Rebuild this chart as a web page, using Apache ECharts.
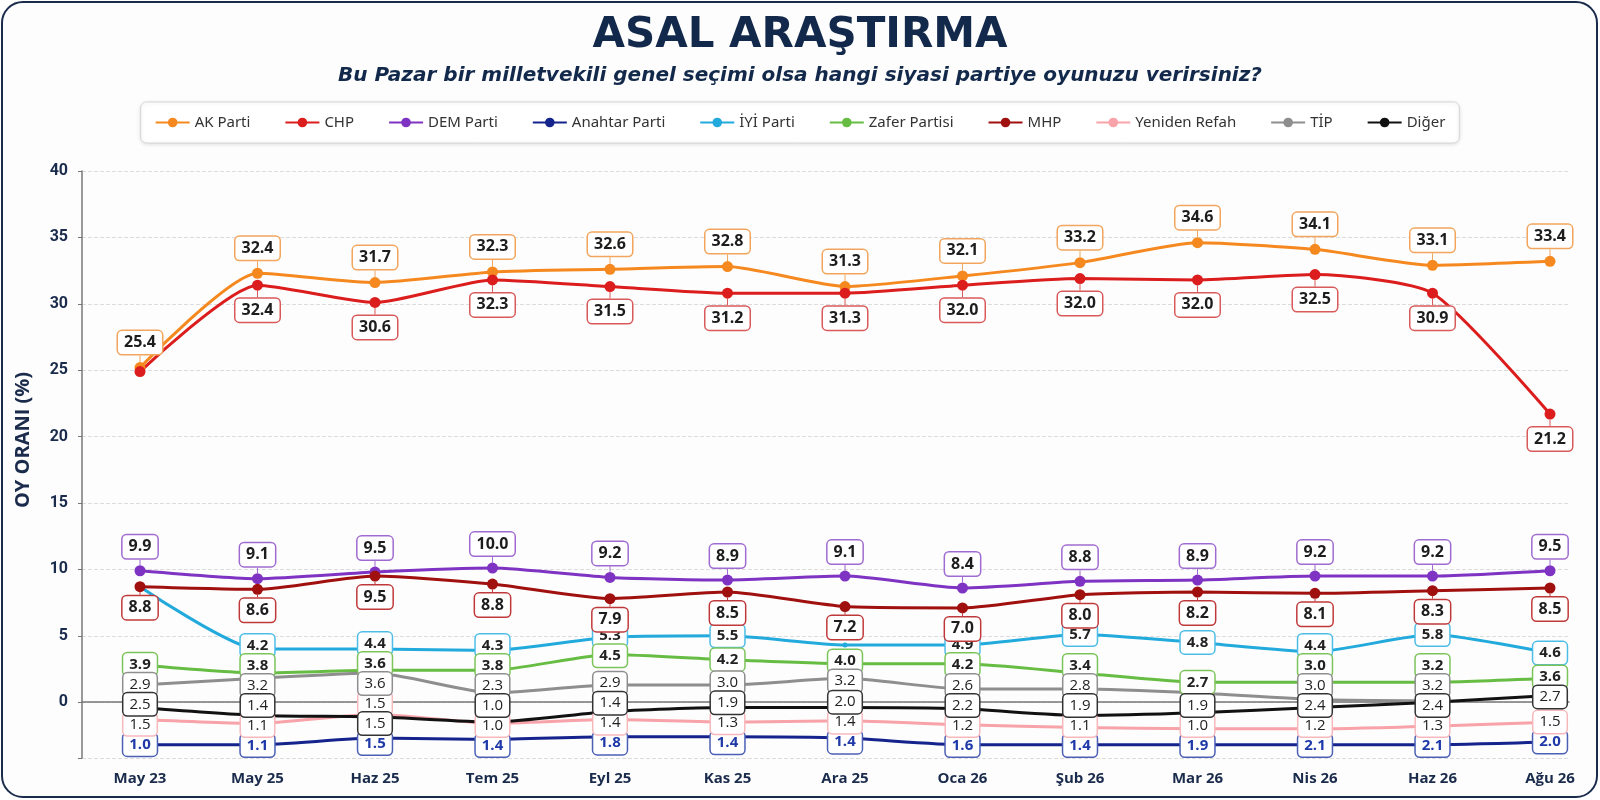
<!DOCTYPE html>
<html>
<head>
<meta charset="utf-8">
<script src="https://cdn.jsdelivr.net/npm/echarts@6/dist/echarts.min.js"></script>
<style>
html, body { margin: 0; padding: 0; background: #fff; }
#frame { position: absolute; left: 1px; top: 1px; width: 1593px; height: 793px; border: 2.5px solid #1a2b4c; border-radius: 22px; background: #fdfdfd; }
#main { position: absolute; left: 0; top: 0; width: 1600px; height: 800px; }
</style>
</head>
<body>
<div id="frame"></div>
<div id="main"></div>
<script>
// aylar
var months = ['May 23', 'May 25', 'Haz 25', 'Tem 25', 'Eyl 25', 'Kas 25', 'Ara 25', 'Oca 26', 'Şub 26', 'Mar 26', 'Nis 26', 'Haz 26', 'Ağu 26'];

// cizgilerin grafikteki yerleri
var akPos = [25.2, 32.3, 31.6, 32.4, 32.6, 32.8, 31.3, 32.1, 33.1, 34.6, 34.1, 32.9, 33.2];
var chpPos = [24.9, 31.4, 30.1, 31.8, 31.3, 30.8, 30.8, 31.4, 31.9, 31.8, 32.2, 30.8, 21.7];
var demPos = [9.9, 9.3, 9.8, 10.1, 9.4, 9.2, 9.5, 8.6, 9.1, 9.2, 9.5, 9.5, 9.9];
var anahtarPos = [-3.2, -3.2, -2.7, -2.8, -2.6, -2.6, -2.7, -3.2, -3.2, -3.2, -3.2, -3.2, -3.0];
var iyiPos = [8.7, 4.0, 4.0, 3.9, 4.9, 5.0, 4.3, 4.3, 5.1, 4.5, 3.8, 5.1, 3.7];
var zaferPos = [2.8, 2.2, 2.4, 2.4, 3.6, 3.2, 2.9, 2.9, 2.2, 1.5, 1.5, 1.5, 1.8];
var mhpPos = [8.7, 8.5, 9.5, 8.9, 7.8, 8.3, 7.2, 7.1, 8.1, 8.3, 8.2, 8.4, 8.6];
var refahPos = [-1.3, -1.6, -0.9, -1.6, -1.3, -1.5, -1.4, -1.7, -1.9, -2.0, -2.0, -1.8, -1.5];
var tipPos = [1.3, 1.8, 2.2, 0.7, 1.3, 1.3, 1.8, 1.0, 1.0, 0.7, 0.2, 0.1, null];
var digerPos = [-0.4, -1.0, -1.1, -1.5, -0.7, -0.4, -0.4, -0.5, -1.0, -0.8, -0.4, 0.0, 0.5];

// kutulardaki yazilar
var akLbl = ['25.4', '32.4', '31.7', '32.3', '32.6', '32.8', '31.3', '32.1', '33.2', '34.6', '34.1', '33.1', '33.4'];
var chpLbl = ['', '32.4', '30.6', '32.3', '31.5', '31.2', '31.3', '32.0', '32.0', '32.0', '32.5', '30.9', '21.2'];
var demLbl = ['9.9', '9.1', '9.5', '10.0', '9.2', '8.9', '9.1', '8.4', '8.8', '8.9', '9.2', '9.2', '9.5'];
var anahtarLbl = ['1.0', '1.1', '1.5', '1.4', '1.8', '1.4', '1.4', '1.6', '1.4', '1.9', '2.1', '2.1', '2.0'];
var iyiLbl = ['', '4.2', '4.4', '4.3', '5.3', '5.5', '', '4.9', '5.7', '4.8', '4.4', '5.8', '4.6'];
var zaferLbl = ['3.9', '3.8', '3.6', '3.8', '4.5', '4.2', '4.0', '4.2', '3.4', '2.7', '3.0', '3.2', '3.6'];
var mhpLbl = ['8.8', '8.6', '9.5', '8.8', '7.9', '8.5', '7.2', '7.0', '8.0', '8.2', '8.1', '8.3', '8.5'];
var refahLbl = ['1.5', '1.1', '1.5', '1.0', '1.4', '1.3', '1.4', '1.2', '1.1', '1.0', '1.2', '1.3', '1.5'];
var tipLbl = ['2.9', '3.2', '3.6', '2.3', '2.9', '3.0', '3.2', '2.6', '2.8', '', '3.0', '3.2', ''];
var digerLbl = ['2.5', '1.4', '1.5', '1.0', '1.4', '1.9', '2.0', '2.2', '1.9', '1.9', '2.4', '2.4', '2.7'];

var yMin = -4.2, yMax = 40;
var gridTop = 171, gridBottom = 42;
var pxPerUnit = (800 - gridTop - gridBottom) / (yMax - yMin);
var navy = '#1a2b4c';

function makeData(pos, lbl) {
    return pos.map(function (v, i) {
        if (lbl[i] === '') {
            return { value: v, label: { show: false }, labelLine: { show: false } };
        }
        return v;
    });
}

// kucuk partilerin kutulari her ayda ust uste binmesin: aralarini acar
var smallSets = [
    { key: 'iyi', pos: iyiPos, lbl: iyiLbl },
    { key: 'zafer', pos: zaferPos, lbl: zaferLbl },
    { key: 'tip', pos: tipPos, lbl: tipLbl },
    { key: 'diger', pos: digerPos, lbl: digerLbl },
    { key: 'refah', pos: refahPos, lbl: refahLbl },
    { key: 'anahtar', pos: anahtarPos, lbl: anahtarLbl }
];
var labelShift = {};
smallSets.forEach(function (s) { labelShift[s.key] = []; });

function spreadLabels() {
    var gap = 20 / pxPerUnit;
    var low = yMin + 12.5 / pxPerUnit;
    for (var i = 0; i < months.length; i++) {
        var col = [];
        smallSets.forEach(function (s) {
            if (s.lbl[i] !== '' && s.pos[i] != null) {
                col.push({ key: s.key, v: s.pos[i], c: s.pos[i] });
            }
        });
        col.sort(function (a, b) { return b.v - a.v; });
        for (var it = 0; it < 200; it++) {
            for (var k = 0; k < col.length - 1; k++) {
                var diff = col[k].c - col[k + 1].c;
                if (diff < gap) {
                    var d = (gap - diff) / 2;
                    col[k].c += d;
                    col[k + 1].c -= d;
                }
            }
        }
        for (var k2 = col.length - 1; k2 >= 0; k2--) {
            if (k2 === col.length - 1) col[k2].c = Math.max(col[k2].c, low);
            else col[k2].c = Math.max(col[k2].c, col[k2 + 1].c + gap);
        }
        col.forEach(function (o) {
            labelShift[o.key][i] = -(o.c - o.v) * pxPerUnit;
        });
    }
}
spreadLabels();

// ust/alt kutulu seriler (cizgiyle baglanan etiket)
function bigLine(name, color, boxColor, pos, lbl, dy) {
    return {
        name: name,
        type: 'line',
        xAxisIndex: 1,
        yAxisIndex: 1,
        data: makeData(pos, lbl),
        smooth: 0.2,
        symbol: 'circle',
        symbolSize: 11,
        lineStyle: { width: 3, color: color },
        itemStyle: { color: color },
        label: {
            show: true,
            position: 'inside',
            formatter: function (p) { return lbl[p.dataIndex]; },
            fontFamily: 'Open Sans',
            fontSize: 16,
            fontWeight: 'bold',
            color: '#1d1d1d',
            backgroundColor: '#fff',
            borderColor: boxColor,
            borderWidth: 1.5,
            borderRadius: 4,
            padding: [4, 6, 3, 6]
        },
        labelLayout: { dy: dy },
        labelLine: { show: true, lineStyle: { color: boxColor, width: 1 } },
        emphasis: { disabled: true }
    };
}

function smallLine(name, key, color, boxColor, pos, lbl, bold, textColor) {
    return {
        name: name,
        type: 'line',
        xAxisIndex: 1,
        yAxisIndex: 1,
        data: makeData(pos, lbl),
        smooth: 0.2,
        symbol: 'circle',
        symbolSize: 5,
        lineStyle: { width: 3, color: color },
        itemStyle: { color: color },
        label: {
            show: true,
            position: 'inside',
            formatter: function (p) { return lbl[p.dataIndex]; },
            fontFamily: 'Open Sans',
            fontSize: 15,
            fontWeight: bold ? 'bold' : 'normal',
            color: textColor || '#222',
            backgroundColor: '#fff',
            borderColor: boxColor,
            borderWidth: 1.5,
            borderRadius: 4,
            padding: [4, 6, 3, 6]
        },
        labelLayout: function (p) {
            return { dy: labelShift[key][p.dataIndex] || 0 };
        },
        emphasis: { disabled: true }
    };
}

var myChart = echarts.init(document.getElementById('main'));
var option = {
    animation: false,
    backgroundColor: 'transparent',
    title: [{
        text: 'ASAL ARAŞTIRMA',
        left: 'center',
        top: 10,
        textStyle: { fontFamily: 'DejaVu Sans', fontSize: 42, fontWeight: 'bold', color: '#13294b' }
    }, {
        text: 'Bu Pazar bir milletvekili genel seçimi olsa hangi siyasi partiye oyunuzu verirsiniz?',
        left: 'center',
        top: 61,
        textStyle: { fontFamily: 'DejaVu Sans', fontSize: 20, fontStyle: 'italic', fontWeight: 'bold', color: '#13294b' }
    }],
    legend: {
        top: 102,
        left: 'center',
        itemWidth: 34,
        itemHeight: 12,
        itemGap: 34,
        padding: [13, 14],
        backgroundColor: '#fff',
        borderColor: '#d6d6d6',
        borderWidth: 1,
        borderRadius: 6,
        shadowBlur: 4,
        shadowColor: 'rgba(0,0,0,0.12)',
        shadowOffsetY: 1,
        textStyle: { fontFamily: 'Noto Sans', fontSize: 15, color: '#333' },
        data: ['AK Parti', 'CHP', 'DEM Parti', 'Anahtar Parti', 'İYİ Parti', 'Zafer Partisi', 'MHP', 'Yeniden Refah', 'TİP', 'Diğer']
    },
    graphic: [{
        type: 'text',
        x: 23,
        y: 440,
        rotation: Math.PI / 2,
        style: {
            text: 'OY ORANI (%)',
            fontFamily: 'Open Sans',
            fontSize: 20,
            fontWeight: 'bold',
            fill: navy,
            textAlign: 'center',
            textVerticalAlign: 'middle'
        }
    }],
    grid: [
        { left: 82, right: 31, top: gridTop, bottom: gridBottom },
        { left: 140, right: 50, top: gridTop, bottom: gridBottom }
    ],
    xAxis: [{
        type: 'value',
        gridIndex: 0,
        min: 0,
        max: 1,
        axisLine: { show: true, lineStyle: { color: '#777', width: 1.5 } },
        axisTick: { show: false },
        axisLabel: { show: false },
        splitLine: { show: false }
    }, {
        type: 'category',
        gridIndex: 1,
        boundaryGap: false,
        data: months,
        axisLine: { show: false },
        axisTick: { show: false },
        axisLabel: { margin: 13, fontFamily: 'Open Sans', fontSize: 15, fontWeight: 'bold', color: navy },
        splitLine: { show: false }
    }],
    yAxis: [{
        type: 'value',
        gridIndex: 0,
        min: yMin,
        max: yMax,
        splitNumber: 9,
        axisLine: { show: true, lineStyle: { color: '#777', width: 1.5 } },
        axisTick: { show: true, length: 4, lineStyle: { color: '#777' } },
        axisLabel: {
            margin: 14,
            fontFamily: 'Roboto',
            fontSize: 16,
            fontWeight: 'bold',
            color: navy,
            formatter: function (v) { return v < 0 ? '' : v; }
        },
        splitLine: { show: true, lineStyle: { type: 'dashed', color: '#dcdcdc' } }
    }, {
        type: 'value',
        gridIndex: 1,
        min: yMin,
        max: yMax,
        show: false,
        splitLine: { show: false }
    }],
    series: [
        bigLine('AK Parti', '#f5891f', '#f2a55c', akPos, akLbl, -25),
        bigLine('CHP', '#dc1d1d', '#d95a5a', chpPos, chpLbl, 25),
        bigLine('DEM Parti', '#7f33c2', '#a06bd0', demPos, demLbl, -24),
        smallLine('Anahtar Parti', 'anahtar', '#15238c', '#4b5fb5', anahtarPos, anahtarLbl, true, '#1f3aa8'),
        smallLine('İYİ Parti', 'iyi', '#22aadd', '#4ebde6', iyiPos, iyiLbl, true),
        smallLine('Zafer Partisi', 'zafer', '#67bd43', '#7cc45a', zaferPos, zaferLbl, true),
        bigLine('MHP', '#a0100f', '#c0393a', mhpPos, mhpLbl, 21),
        smallLine('Yeniden Refah', 'refah', '#f7a3a9', '#f7b8bc', refahPos, refahLbl, false),
        smallLine('TİP', 'tip', '#8e8e8e', '#8e8e8e', tipPos, tipLbl, false),
        smallLine('Diğer', 'diger', '#111111', '#333333', digerPos, digerLbl, false)
    ]
};

myChart.setOption(option);
</script>
</body>
</html>
